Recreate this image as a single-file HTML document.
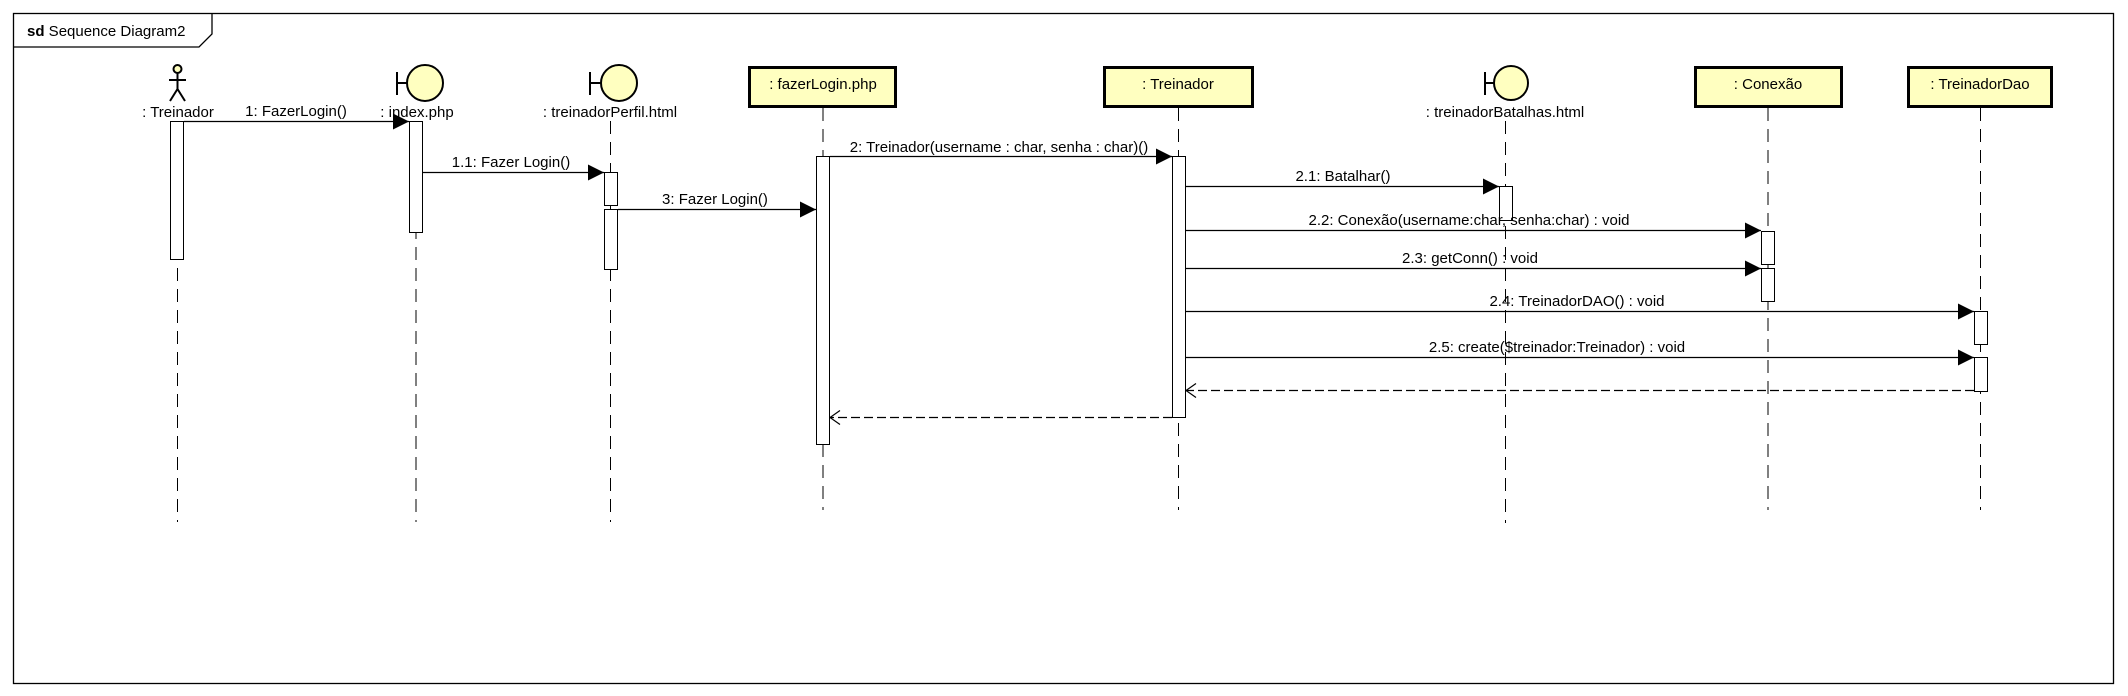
<!DOCTYPE html>
<html><head><meta charset="utf-8"><style>
html,body{margin:0;padding:0;background:#fff;}
svg{display:block;}
text{font-family:"Liberation Sans",Arial,sans-serif;font-size:15px;fill:#000;}
</style></head><body>
<svg width="2128" height="696" viewBox="0 0 2128 696" xmlns="http://www.w3.org/2000/svg">
<defs>
<marker id="f" viewBox="0 0 16 16" refX="16" refY="8" markerWidth="16" markerHeight="16" markerUnits="userSpaceOnUse" orient="auto"><path d="M0,0 L16,8 L0,16 z" fill="#000"/></marker>
<marker id="o" viewBox="0 0 12 16" refX="11" refY="8" markerWidth="12" markerHeight="16" markerUnits="userSpaceOnUse" orient="auto"><path d="M1,1 L11,8 L1,15" fill="none" stroke="#000" stroke-width="1.2"/></marker>
</defs>
<!-- frame -->
<rect x="13.5" y="13.5" width="2100" height="670" fill="none" stroke="#000" stroke-width="1.3"/>
<path d="M13.5,47 L199,47 L212,34 L212,13.5" fill="none" stroke="#000" stroke-width="1.3"/>
<text x="27" y="36"><tspan font-weight="bold">sd</tspan> Sequence Diagram2</text>

<!-- lifelines -->
<g stroke="#000" stroke-width="1" stroke-dasharray="13,8" fill="none">
<line x1="177.5" y1="121" x2="177.5" y2="522"/>
<line x1="416" y1="121" x2="416" y2="522"/>
<line x1="610.5" y1="121" x2="610.5" y2="522"/>
<line x1="823" y1="108" x2="823" y2="510"/>
<line x1="1178.5" y1="108" x2="1178.5" y2="510"/>
<line x1="1505.5" y1="121" x2="1505.5" y2="523"/>
<line x1="1768" y1="108" x2="1768" y2="510"/>
<line x1="1980.5" y1="108" x2="1980.5" y2="510"/>
</g>

<!-- actor -->
<g stroke="#000" stroke-width="2" fill="none">
<circle cx="177.5" cy="69" r="4" fill="#ffffc0"/>
<line x1="177.5" y1="73" x2="177.5" y2="89"/>
<line x1="169" y1="80" x2="186" y2="80"/>
<line x1="177.5" y1="89" x2="170" y2="101"/>
<line x1="177.5" y1="89" x2="185" y2="101"/>
</g>
<text x="178" y="117" text-anchor="middle">: Treinador</text>

<!-- boundaries -->
<g stroke="#000" stroke-width="2" fill="#ffffc0">
<line x1="397" y1="72" x2="397" y2="95"/><line x1="397" y1="83" x2="407" y2="83"/><circle cx="425" cy="83" r="18"/>
<line x1="590" y1="72" x2="590" y2="95"/><line x1="590" y1="83" x2="601" y2="83"/><circle cx="619" cy="83" r="18"/>
<line x1="1485" y1="72" x2="1485" y2="95"/><line x1="1485" y1="83" x2="1494" y2="83"/><circle cx="1511" cy="83" r="17"/>
</g>
<text x="417" y="117" text-anchor="middle">: index.php</text>
<text x="610" y="117" text-anchor="middle">: treinadorPerfil.html</text>
<text x="1505" y="117" text-anchor="middle">: treinadorBatalhas.html</text>

<!-- boxes -->
<g stroke="#000" stroke-width="3" fill="#ffffc0">
<rect x="749.5" y="67.5" width="146" height="39"/>
<rect x="1104.5" y="67.5" width="148" height="39"/>
<rect x="1695.5" y="67.5" width="146" height="39"/>
<rect x="1908.5" y="67.5" width="143" height="39"/>
</g>
<text x="823" y="89" text-anchor="middle">: fazerLogin.php</text>
<text x="1178" y="89" text-anchor="middle">: Treinador</text>
<text x="1768" y="89" text-anchor="middle">: Conexão</text>
<text x="1980" y="89" text-anchor="middle">: TreinadorDao</text>

<!-- activations -->
<g stroke="#000" stroke-width="1" fill="#fff">
<rect x="170.5" y="121.5" width="13" height="138"/>
<rect x="409.5" y="121.5" width="13" height="111"/>
<rect x="604.5" y="172.5" width="13" height="33"/>
<rect x="604.5" y="209.5" width="13" height="60"/>
<rect x="816.5" y="156.5" width="13" height="288"/>
<rect x="1172.5" y="156.5" width="13" height="261"/>
<rect x="1499.5" y="186.5" width="13" height="34"/>
<rect x="1761.5" y="231.5" width="13" height="33"/>
<rect x="1761.5" y="268.5" width="13" height="33"/>
<rect x="1974.5" y="311.5" width="13" height="33"/>
<rect x="1974.5" y="357.5" width="13" height="34"/>
</g>

<!-- messages -->
<g stroke="#000" stroke-width="1.2" fill="none">
<line x1="184" y1="121.5" x2="409" y2="121.5" marker-end="url(#f)"/>
<line x1="423" y1="172.5" x2="604" y2="172.5" marker-end="url(#f)"/>
<line x1="618" y1="209.5" x2="816" y2="209.5" marker-end="url(#f)"/>
<line x1="830" y1="156.5" x2="1172" y2="156.5" marker-end="url(#f)"/>
<line x1="1186" y1="186.5" x2="1499" y2="186.5" marker-end="url(#f)"/>
<line x1="1186" y1="230.5" x2="1761" y2="230.5" marker-end="url(#f)"/>
<line x1="1186" y1="268.5" x2="1761" y2="268.5" marker-end="url(#f)"/>
<line x1="1186" y1="311.5" x2="1974" y2="311.5" marker-end="url(#f)"/>
<line x1="1186" y1="357.5" x2="1974" y2="357.5" marker-end="url(#f)"/>
<line x1="1974" y1="390.5" x2="1186" y2="390.5" stroke-dasharray="9,4" marker-end="url(#o)"/>
<line x1="1172" y1="417.5" x2="830" y2="417.5" stroke-dasharray="9,4" marker-end="url(#o)"/>
</g>
<text x="296" y="116" text-anchor="middle">1: FazerLogin()</text>
<text x="511" y="167" text-anchor="middle">1.1: Fazer Login()</text>
<text x="715" y="204" text-anchor="middle">3: Fazer Login()</text>
<text x="999" y="152" text-anchor="middle">2: Treinador(username : char, senha : char)()</text>
<text x="1343" y="181" text-anchor="middle">2.1: Batalhar()</text>
<text x="1469" y="225" text-anchor="middle">2.2: Conexão(username:char, senha:char) : void</text>
<text x="1470" y="263" text-anchor="middle">2.3: getConn() : void</text>
<text x="1577" y="306" text-anchor="middle">2.4: TreinadorDAO() : void</text>
<text x="1557" y="352" text-anchor="middle">2.5: create($treinador:Treinador) : void</text>
</svg>
</body></html>
